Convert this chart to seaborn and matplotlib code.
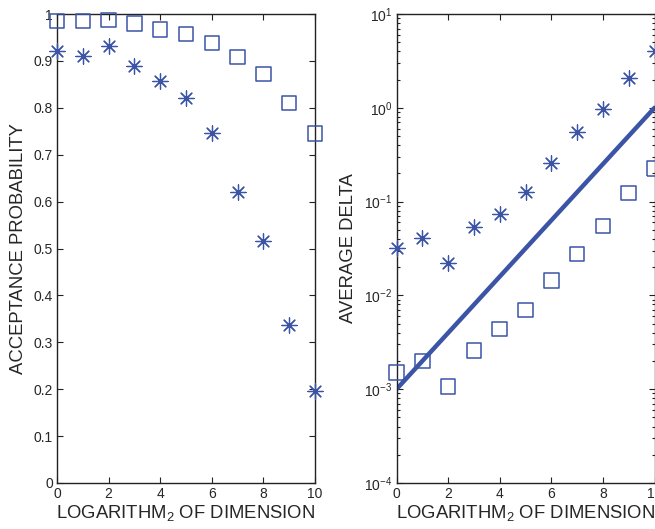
import numpy as np
import pandas as pd
import matplotlib
matplotlib.use("Agg")
import matplotlib.pyplot as plt
import seaborn as sns

# ---- data ----
log_dim = [0, 1, 2, 3, 4, 5, 6, 7, 8, 9, 10]
accept_square = [0.985, 0.985, 0.987, 0.980, 0.967, 0.957, 0.938, 0.908, 0.872, 0.810, 0.745]
accept_star = [0.922, 0.910, 0.932, 0.890, 0.858, 0.820, 0.746, 0.620, 0.515, 0.337, 0.197]
delta_star = [0.032, 0.041, 0.022, 0.053, 0.074, 0.126, 0.257, 0.55, 0.97, 2.1, 4.0]
delta_square = [0.0015, 0.0020, 0.00107, 0.0026, 0.0044, 0.0070, 0.0145, 0.0275, 0.055, 0.123, 0.224]
ref_line_x = [0, 10]
ref_line_y = [0.001, 1.0]

xlabel = "LOGARITHM$_{\\mathregular{2}}$ OF DIMENSION"
ylabel_left = "ACCEPTANCE PROBABILITY"
ylabel_right = "AVERAGE DELTA"

sns.set_style("ticks")
plt.rcParams["font.family"] = ["Liberation Sans", "DejaVu Sans"]
plt.rcParams["mathtext.fontset"] = "custom"
plt.rcParams["mathtext.rm"] = "Liberation Sans"
plt.rcParams["mathtext.it"] = "Liberation Sans"
plt.rcParams["mathtext.default"] = "regular"

blue = "#3B54A6"
W, H = 655, 529
fig = plt.figure(figsize=(W / 100, H / 100), dpi=100)

ax1 = fig.add_axes([57 / W, 1 - 483 / H, (315 - 57) / W, (483 - 14) / H])
ax2 = fig.add_axes([396.5 / W, 1 - 483 / H, (654.5 - 396.5) / W, (483 - 14) / H])

df1 = pd.DataFrame({"x": log_dim, "sq": accept_square, "st": accept_star})
df2 = pd.DataFrame({"x": log_dim, "sq": delta_square, "st": delta_star})
dfl = pd.DataFrame({"x": ref_line_x, "y": ref_line_y})

star = (8, 2, 0)

for ax, df in ((ax1, df1), (ax2, df2)):
    sns.scatterplot(data=df, x="x", y="sq", ax=ax, marker="s", s=110,
                    facecolor="none", edgecolor=blue, linewidth=1.1,
                    clip_on=False, zorder=3)
    sns.scatterplot(data=df, x="x", y="st", ax=ax, marker=star, s=120,
                    color=blue, linewidth=0.9, clip_on=False, zorder=3)

sns.lineplot(data=dfl, x="x", y="y", ax=ax2, color=blue, linewidth=3.2, zorder=2)

ax1.set_xlim(0, 10)
ax1.set_ylim(0, 1)
ax1.set_xticks(range(0, 11, 2))
ax1.set_yticks(np.arange(0, 1.01, 0.1))
ax1.set_yticklabels(["0", "0.1", "0.2", "0.3", "0.4", "0.5", "0.6", "0.7", "0.8", "0.9", "1"])

ax2.set_yscale("log")
ax2.set_xlim(0, 10)
ax2.set_ylim(1e-4, 10)
ax2.set_xticks(range(0, 11, 2))

for ax, yl in ((ax1, ylabel_left), (ax2, ylabel_right)):
    ax.set_xlabel(xlabel, fontsize=13.3, labelpad=1.5)
    ax.set_ylabel(yl, fontsize=13.3, labelpad=5)
    ax.tick_params(which="both", direction="in", top=True, right=True,
                   labelsize=10, pad=3, width=0.8, color="#222222")
    ax.tick_params(which="major", length=4)
    ax.tick_params(which="minor", length=2)
    for sp in ax.spines.values():
        sp.set_visible(True)
        sp.set_linewidth(1.0)
        sp.set_color("#222222")

fig.savefig("out.png", dpi=100)
